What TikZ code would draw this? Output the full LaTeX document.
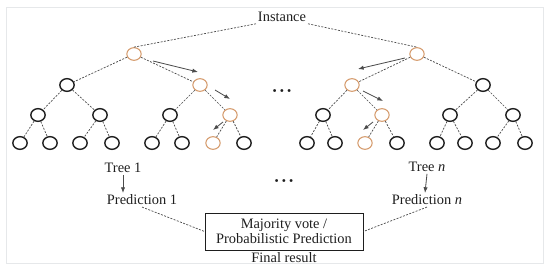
\documentclass[tikz,border=0pt]{standalone}
\usepackage{fontspec}
\setmainfont{Liberation Serif}
\usetikzlibrary{arrows.meta,calc,positioning,shapes.geometric}
\definecolor{ink}{HTML}{1E1E1E}
\definecolor{edgegray}{HTML}{4A4A4A}
\definecolor{hit}{HTML}{D4996A}
\definecolor{frame}{HTML}{E6E8EA}
\tikzset{
  knot/.style={ellipse,draw=ink,line width=1.2pt,minimum width=0.43cm,minimum height=0.38cm,inner sep=0pt},
  hitknot/.style={knot,draw=hit,line width=0.9pt},
  branch/.style={draw=edgegray,dash pattern=on 1.7pt off 1.2pt,line width=0.6pt},
  walk/.style={-{Latex[length=1.7mm,width=1.3mm]},line width=0.7pt,draw=ink!80},
  tag/.style={font=\fontsize{12.3}{13}\selectfont,text=ink,inner sep=1.5pt},
  dots/.style={font=\small\bfseries,text=ink,inner sep=0pt}
}

\begin{document}
\begin{tikzpicture}[x=0.03cm,y=0.03cm,
        vote/.style={tag,draw=ink,line width=0.7pt,align=center,minimum width=4.74cm,minimum height=1.11cm}
      ]
        \useasboundingbox (0,0) rectangle (550,270);
        \draw[frame,line width=0.6pt] (6,7) rectangle (543,263);

        \node[tag] (inst) at (282,253) {Instance};

        \foreach \n/\x/\y in {l2a/67/185,l3a/38/155,l3b/100/155,l3c/170/155,
                              l4a/20/127,l4b/50/127,l4c/80/127,l4d/112/127,l4e/152/127,l4f/182/127,l4h/244/127,
                              r2b/483/185,r3a/323/155,r3c/450/155,r3d/513/155,
                              r4a/307/127,r4b/335/127,r4d/397/127,r4e/437/127,r4f/465/127,r4g/493/127,r4h/525/127}
          \node[knot] (\n) at (\x,\y) {};
        \foreach \n/\x/\y in {l1/134/216,l2b/200/185,l3d/230/155,l4g/213/127,
                              r1/417/216,r2a/352/185,r3b/382/155,r4c/365/127}
          \node[hitknot] (\n) at (\x,\y) {};

        \foreach \a/\b in {l1/l2a,l1/l2b,l2a/l3a,l2a/l3b,l2b/l3c,l2b/l3d,
                           l3a/l4a,l3a/l4b,l3b/l4c,l3b/l4d,l3c/l4e,l3c/l4f,l3d/l4g,l3d/l4h,
                           r1/r2a,r1/r2b,r2a/r3a,r2a/r3b,r2b/r3c,r2b/r3d,
                           r3a/r4a,r3a/r4b,r3b/r4c,r3b/r4d,r3c/r4e,r3c/r4f,r3d/r4g,r3d/r4h}
          \draw[branch] (\a) -- (\b);

        \draw[branch] (inst.south west) -- (l1.north);
        \draw[branch] (inst.south east) -- (r1.north);

        \coordinate (la1) at (153,209); \coordinate (lb1) at (198,198);
        \coordinate (la2) at (215,180); \coordinate (lb2) at (230,171);
        \coordinate (la3) at (223,148); \coordinate (lb3) at (213,140);
        \coordinate (ra1) at (405,212); \coordinate (rb1) at (358,201);
        \coordinate (ra2) at (363,179); \coordinate (rb2) at (383,169);
        \coordinate (ra3) at (373,148); \coordinate (rb3) at (363,140);
        \foreach \s in {l,r}
          \foreach \i in {1,2,3}
            \draw[walk] (\s a\i) -- (\s b\i);

        \node[dots] (gap) at (282,178) {\textbullet\,\,\textbullet\,\,\textbullet};
        \node[dots] (gapb) at (284,88) {\textbullet\,\,\textbullet\,\,\textbullet};

        \node[tag] (tree1) at (123,102) {Tree 1};
        \node[tag] (pred1) at (142,70) {Prediction 1};
        \node[tag] (treen) at (427,103) {Tree \textit{n}};
        \node[tag] (predn) at (427,70) {Prediction \textit{n}};

        \draw[walk] (tree1.south) -- (tree1.south |- pred1.north);
        \draw[walk] (treen.south) -- ($(treen.south |- predn.north)+(-2,0)$);

        \node[vote] (box) at (284,38.5) {Majority vote /\\Probabilistic Prediction};
        \node[tag,below=0pt of box] (final) {Final result};

        \draw[branch] (pred1.south) -- (box.west);
        \draw[branch] (predn.south) -- (box.east);
      \end{tikzpicture}
\end{document}
